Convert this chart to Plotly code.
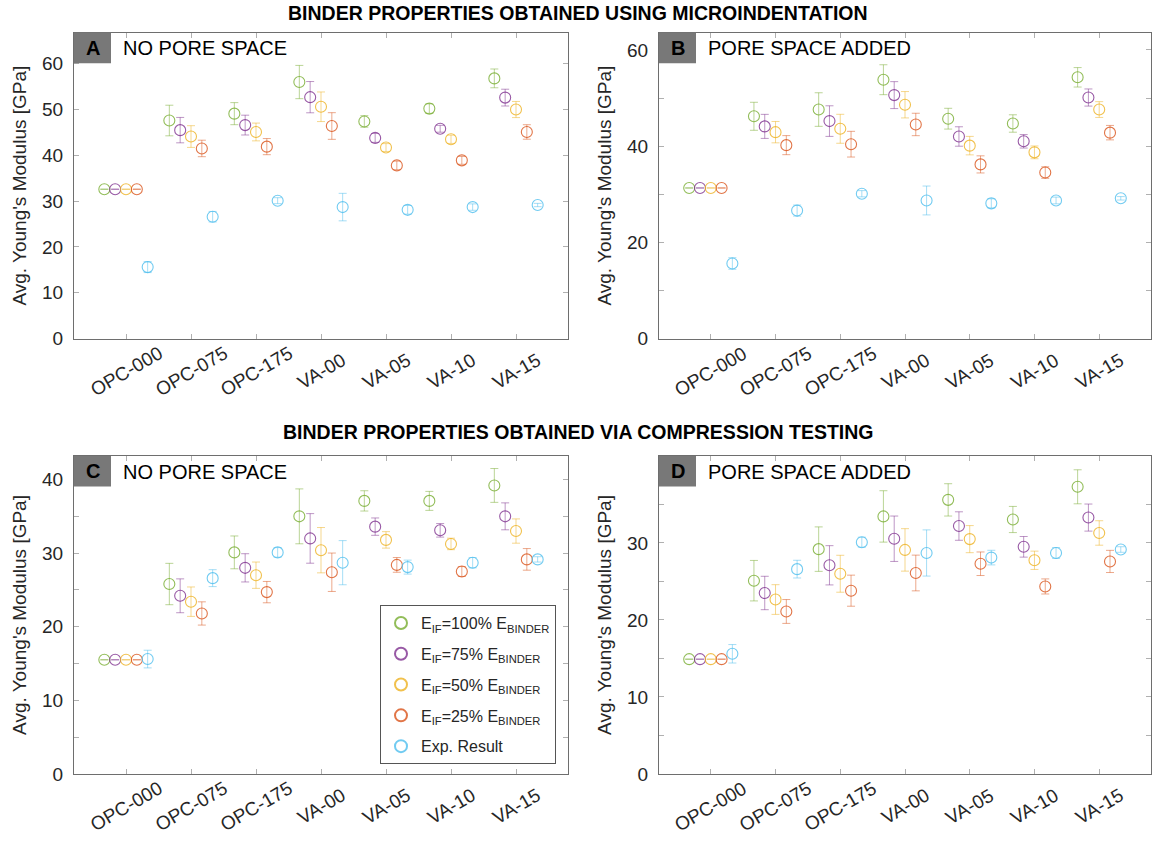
import plotly.graph_objects as go

# ---- data -------------------------------------------------------------
categories = ["OPC-000", "OPC-075", "OPC-175", "VA-00", "VA-05", "VA-10", "VA-15"]

series_names = [
    "E<sub>IF</sub>=100% E<sub>BINDER</sub>",
    "E<sub>IF</sub>=75% E<sub>BINDER</sub>",
    "E<sub>IF</sub>=50% E<sub>BINDER</sub>",
    "E<sub>IF</sub>=25% E<sub>BINDER</sub>",
    "Exp. Result",
]

# experimental result (same in every panel)
exp_mean = [15.6, 26.6, 30.1, 28.7, 28.1, 28.7, 29.15]
exp_err = [1.2, 1.15, 0.65, 3.0, 0.95, 0.7, 0.36]

# A: microindentation, no pore space
a_100 = [32.6, 47.6, 49.1, 56.0, 47.4, 50.2, 56.8]
a_100_err = [0, 3.34, 2.41, 3.63, 1.26, 1.04, 2.05]
a_75 = [32.6, 45.5, 46.6, 52.7, 43.8, 45.8, 52.6]
a_75_err = [0, 2.77, 2.16, 3.41, 0.97, 0.75, 1.83]
a_50 = [32.6, 44.1, 45.1, 50.6, 41.7, 43.5, 50.0]
a_50_err = [0, 2.37, 1.94, 3.23, 0.86, 0.9, 1.76]
a_25 = [32.6, 41.5, 41.9, 46.4, 37.8, 38.9, 45.1]
a_25_err = [0, 1.8, 1.76, 2.91, 0.93, 0.86, 1.58]

# B: microindentation, pore space added
b_100 = [31.3, 46.2, 47.6, 53.8, 45.7, 44.7, 54.3]
b_100_err = [0, 2.91, 3.49, 3.11, 2.16, 1.81, 2.02]
b_75 = [31.3, 44.1, 45.2, 50.6, 42.0, 41.0, 50.1]
b_75_err = [0, 2.5, 3.18, 2.8, 2.02, 1.4, 1.78]
b_50 = [31.3, 42.9, 43.6, 48.6, 40.1, 38.7, 47.6]
b_50_err = [0, 2.22, 3.01, 2.74, 1.92, 1.33, 1.64]
b_25 = [31.3, 40.2, 40.4, 44.5, 36.2, 34.5, 42.8]
b_25_err = [0, 1.98, 2.67, 2.33, 1.78, 1.2, 1.5]

# C: compression testing, no pore space
c_100 = [15.5, 25.8, 30.1, 35.0, 37.1, 37.1, 39.2]
c_100_err = [0, 2.81, 2.23, 3.73, 1.38, 1.29, 2.3]
c_75 = [15.5, 24.2, 28.0, 32.0, 33.6, 33.1, 35.0]
c_75_err = [0, 2.3, 1.92, 3.37, 1.18, 0.92, 1.83]
c_50 = [15.5, 23.4, 27.0, 30.4, 31.8, 31.25, 33.0]
c_50_err = [0, 2.0, 1.79, 3.08, 1.12, 0.78, 1.65]
c_25 = [15.5, 21.8, 24.7, 27.4, 28.4, 27.5, 29.15]
c_25_err = [0, 1.58, 1.45, 2.61, 1.0, 0.67, 1.47]

# D: compression testing, pore space added
d_100 = [14.9, 25.1, 29.2, 33.45, 35.6, 33.05, 37.3]
d_100_err = [0, 2.63, 2.89, 3.34, 2.1, 1.7, 2.21]
d_75 = [14.9, 23.5, 27.1, 30.55, 32.2, 29.5, 33.3]
d_75_err = [0, 2.17, 2.55, 2.95, 1.85, 1.34, 1.76]
d_50 = [14.9, 22.65, 26.0, 29.1, 30.5, 27.75, 31.3]
d_50_err = [0, 1.93, 2.4, 2.76, 1.76, 1.19, 1.59]
d_25 = [14.9, 21.1, 23.8, 26.1, 27.3, 24.35, 27.6]
d_25_err = [0, 1.55, 2.02, 2.32, 1.53, 0.98, 1.44]

panel_letters = ["A", "B", "C", "D"]
panel_labels = ["NO PORE SPACE", "PORE SPACE ADDED", "NO PORE SPACE", "PORE SPACE ADDED"]
section_titles = [
    "BINDER PROPERTIES OBTAINED USING MICROINDENTATION",
    "BINDER PROPERTIES OBTAINED VIA COMPRESSION TESTING",
]
y_title = "Avg. Young's Modulus [GPa]"

# y ticks: labelled (major) and unlabelled (minor) per panel
y_major = [[0, 10, 20, 30, 40, 50, 60], [0, 20, 40, 60], [0, 10, 20, 30, 40], [0, 10, 20, 30]]
y_minor = [[], [10, 30, 50], [5, 15, 25, 35], [5, 15, 25, 35]]
y_ranges = [[0, 66.8], [0, 63.6], [0, 43.2], [0, 41.3]]

# ---- styling ------------------------------------------------------------
W, H = 1154, 849
FONT = "Liberation Sans"
colors = ["#77AC30", "#7E2F8E", "#EDB120", "#D95319", "#4DBEEE"]
offsets = [-2 / 6, -1 / 6, 0.0, 1 / 6, 2 / 6]


def rgba(hex_color, a):
    h = hex_color.lstrip("#")
    r, g, b = int(h[0:2], 16), int(h[2:4], 16), int(h[4:6], 16)
    return f"rgba({r},{g},{b},{a})"


# plot-area pixel boxes: (left, right, top, bottom)
boxes = [
    (74, 568, 33, 343),
    (659, 1151, 33, 343),
    (74, 568, 462, 784),
    (659, 1151, 462, 784),
]

panel_series = [
    [(a_100, a_100_err), (a_75, a_75_err), (a_50, a_50_err), (a_25, a_25_err), (exp_mean, exp_err)],
    [(b_100, b_100_err), (b_75, b_75_err), (b_50, b_50_err), (b_25, b_25_err), (exp_mean, exp_err)],
    [(c_100, c_100_err), (c_75, c_75_err), (c_50, c_50_err), (c_25, c_25_err), (exp_mean, exp_err)],
    [(d_100, d_100_err), (d_75, d_75_err), (d_50, d_50_err), (d_25, d_25_err), (exp_mean, exp_err)],
]

fig = go.Figure()
annotations = []
shapes = []
x_pos = list(range(1, len(categories) + 1))

for p in range(4):
    sfx = "" if p == 0 else str(p + 1)
    xa, ya = "x" + sfx, "y" + sfx
    for s, (vals, errs) in enumerate(panel_series[p]):
        fig.add_trace(go.Scatter(
            x=[xp + offsets[s] for xp in x_pos],
            y=vals,
            xaxis=xa, yaxis=ya,
            mode="markers",
            name=series_names[s],
            legendgroup=series_names[s],
            showlegend=(p == 2),
            marker=dict(symbol="circle-open", size=11, color=rgba(colors[s], 0.8),
                        line=dict(width=1.1, color=rgba(colors[s], 0.8))),
            error_y=dict(type="data", array=errs, visible=True,
                         color=rgba(colors[s], 0.5), thickness=1, width=4),
        ))

    left, right, top, bottom = boxes[p]
    dom_x = [left / W, right / W]
    dom_y = [1 - bottom / H, 1 - top / H]
    fig.layout["xaxis" + sfx] = dict(
        domain=dom_x, anchor=ya, range=[0.2, 7.8],
        tickvals=x_pos, showticklabels=False,
        ticks="inside", ticklen=5, tickcolor="#b0b0b0",
        showline=True, linecolor="#6e6e6e", linewidth=1, mirror="ticks",
        showgrid=False, zeroline=False, fixedrange=True,
    )
    yaxis = dict(
        domain=dom_y, anchor=xa, range=y_ranges[p],
        tickmode="array", tickvals=y_major[p],
        ticks="inside", ticklen=5, tickcolor="#b0b0b0",
        showline=True, linecolor="#6e6e6e", linewidth=1, mirror="ticks",
        showgrid=False, zeroline=False, fixedrange=True,
        tickfont=dict(family=FONT, size=19, color="#262626"),
        ticklabelstandoff=6,
    )
    if y_minor[p]:
        yaxis["minor"] = dict(tickmode="array", tickvals=y_minor[p], ticks="inside",
                              ticklen=5, tickcolor="#b0b0b0", showgrid=False)
    fig.layout["yaxis" + sfx] = yaxis

    # rotated category labels centred on their ticks
    for i, cat in enumerate(categories):
        annotations.append(dict(
            x=x_pos[i], y=dom_y[0], xref=xa, yref="paper",
            text=cat, showarrow=False, textangle=-30,
            xanchor="center", yanchor="middle", yshift=-33,
            font=dict(family=FONT, size=19, color="#262626"),
        ))

    # y axis title
    annotations.append(dict(
        x=(left - 54) / W, y=(dom_y[0] + dom_y[1]) / 2, xref="paper", yref="paper",
        text=y_title, showarrow=False, textangle=-90,
        xanchor="center", yanchor="middle",
        font=dict(family=FONT, size=19, color="#262626"),
    ))

    # panel tag box and letter
    bw, bh = 37, 31
    shapes.append(dict(
        type="rect", xref="paper", yref="paper",
        x0=left / W, x1=(left + bw) / W, y0=1 - (top + bh) / H, y1=1 - top / H,
        fillcolor="#787878", line=dict(width=0), layer="above",
    ))
    annotations.append(dict(
        x=(left + bw / 2) / W, y=1 - (top + bh / 2) / H, xref="paper", yref="paper",
        text="<b>" + panel_letters[p] + "</b>", showarrow=False,
        xanchor="center", yanchor="middle",
        font=dict(family=FONT, size=20, color="#000000"),
    ))
    annotations.append(dict(
        x=(left + 47) / W, y=1 - (top + 16) / H, xref="paper", yref="paper",
        text=panel_labels[p], showarrow=False,
        xanchor="left", yanchor="middle",
        font=dict(family=FONT, size=20, color="#000000"),
    ))

# section titles
for txt, ypix in zip(section_titles, [13, 438]):
    annotations.append(dict(
        x=578 / W, y=1 - ypix / H, xref="paper", yref="paper",
        text="<b>" + txt + "</b>", showarrow=False,
        xanchor="center", yanchor="middle",
        font=dict(family=FONT, size=19.5, color="#000000"),
    ))

fig.update_layout(
    width=W, height=H,
    margin=dict(l=0, r=0, t=0, b=0),
    paper_bgcolor="white", plot_bgcolor="white",
    font=dict(family=FONT, size=17, color="#262626"),
    annotations=annotations,
    shapes=shapes,
    legend=dict(
        x=380 / W, y=1 - 613 / H, xanchor="left", yanchor="top",
        bgcolor="white", bordercolor="#555555", borderwidth=1,
        font=dict(family=FONT, size=16, color="#262626"),
        itemsizing="constant", tracegroupgap=7,
    ),
)

fig.write_html("out.html")
